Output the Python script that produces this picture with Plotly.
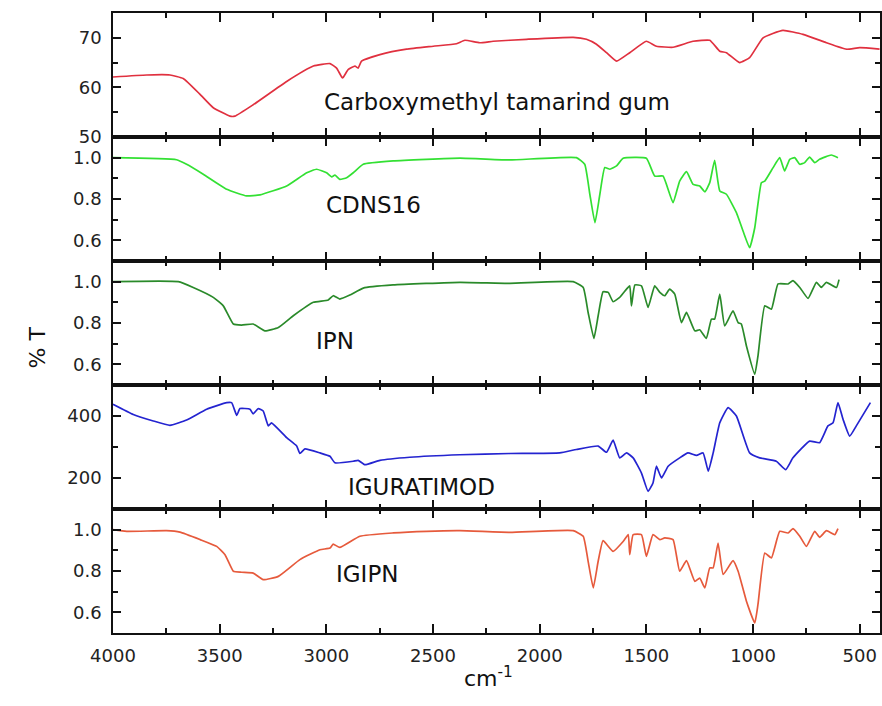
import plotly.graph_objects as go
from plotly.subplots import make_subplots

# ---------------- data ----------------
cmtg_wn = [4000, 3842, 3733, 3671, 3592, 3530, 3452, 3429, 3343, 3186, 3061, 2983, 2952, 2924, 2898,
           2866, 2851, 2835, 2749, 2624, 2499, 2390, 2351, 2281, 2218, 2062, 1843, 1781, 1734, 1687,
           1640, 1578, 1500, 1453, 1375, 1281, 1203, 1156, 1125, 1063, 1016, 953, 860, 766, 656,
           563, 500, 407]
cmtg_t = [62.1, 62.5, 62.5, 61.8, 58.6, 55.9, 54.2, 54.2, 56.5, 61.2, 64.3, 64.8, 63.9, 61.9, 63.6,
          64.3, 63.9, 65.3, 66.6, 67.7, 68.3, 68.8, 69.5, 69.0, 69.3, 69.7, 70.1, 69.7, 68.7, 67.0,
          65.3, 67.0, 69.3, 68.3, 68.1, 69.3, 69.5, 67.3, 67.0, 65.0, 66.0, 70.0, 71.5, 70.7, 69.0,
          67.7, 68.0, 67.7]

cdns_wn = [4000, 3702, 3655, 3577, 3467, 3374, 3311, 3186, 3092, 3046, 2999, 2975, 2960, 2937, 2905,
           2874, 2827, 2687, 2374, 2140, 1828, 1789, 1765, 1741, 1718, 1695, 1671, 1640, 1609, 1500,
           1461, 1422, 1375, 1344, 1312, 1281, 1250, 1226, 1203, 1180, 1156, 1125, 1078, 1047, 1016,
           992, 961, 945, 906, 875, 852, 828, 805, 781, 758, 735, 711, 688, 633, 602]
cdns_t = [1.0, 0.99, 0.968, 0.92, 0.847, 0.815, 0.82, 0.863, 0.927, 0.944, 0.927, 0.907, 0.916, 0.895, 0.903,
          0.927, 0.968, 0.984, 0.998, 0.989, 1.0, 0.968, 0.823, 0.685, 0.823, 0.952, 0.944, 0.96, 0.997, 0.997,
          0.911, 0.911, 0.782, 0.887, 0.932, 0.871, 0.863, 0.835, 0.879, 0.987, 0.839, 0.823, 0.734, 0.645, 0.564,
          0.661, 0.879, 0.887, 0.952, 1.0, 0.936, 0.992, 1.0, 0.968, 0.976, 1.003, 0.976, 0.992, 1.013, 1.0]

ipn_wn = [4000, 3694, 3624, 3530, 3483, 3436, 3397, 3343, 3288, 3225, 3155, 3061, 2991, 2968, 2937,
          2890, 2827, 2687, 2374, 2140, 1843, 1796, 1773, 1746, 1726, 1703, 1679, 1656, 1625, 1593,
          1578, 1570, 1554, 1523, 1492, 1461, 1437, 1414, 1391, 1367, 1336, 1312, 1273, 1250, 1219,
          1195, 1180, 1156, 1133, 1094, 1070, 1055, 1031, 992, 977, 945, 914, 883, 836, 813,
          781, 742, 703, 680, 656, 609, 597]
ipn_t = [1.0, 1.0, 0.972, 0.924, 0.883, 0.795, 0.79, 0.795, 0.762, 0.778, 0.835, 0.9, 0.911, 0.932, 0.916,
         0.935, 0.969, 0.984, 0.997, 0.992, 1.0, 0.972, 0.851, 0.725, 0.835, 0.951, 0.948, 0.903, 0.924, 0.964,
         0.98, 0.883, 0.984, 0.98, 0.875, 0.98, 0.948, 0.932, 0.964, 0.94, 0.802, 0.851, 0.762, 0.767, 0.725,
         0.819, 0.819, 0.94, 0.786, 0.859, 0.802, 0.795, 0.689, 0.552, 0.64, 0.883, 0.867, 0.989, 0.989, 1.005,
         0.972, 0.919, 0.997, 0.972, 0.997, 0.972, 1.01]

igu_wn = [4000, 3905, 3811, 3733, 3655, 3561, 3467, 3444, 3420, 3405, 3358, 3343, 3319, 3296, 3272,
          3257, 3186, 3139, 3124, 3100, 3030, 2983, 2960, 2874, 2851, 2819, 2749, 2609, 2374, 2140,
          1906, 1828, 1726, 1687, 1656, 1625, 1593, 1562, 1523, 1492, 1469, 1453, 1429, 1398, 1344,
          1305, 1265, 1234, 1210, 1187, 1156, 1117, 1078, 1016, 969, 891, 847, 813, 735, 688,
          649, 625, 602, 578, 547, 516, 450]
igu_t = [438, 405, 384, 370, 387, 422, 443, 443, 402, 424, 422, 407, 424, 416, 368,
         378, 330, 303, 279, 294, 281, 270, 249, 254, 257, 243, 257, 267, 275, 279,
         281, 292, 303, 283, 322, 265, 281, 265, 216, 157, 184, 238, 200, 238, 265,
         281, 273, 281, 222, 281, 378, 427, 400, 281, 265, 254, 227, 265, 319, 314,
         368, 378, 443, 389, 335, 368, 443]

igipn_wn = [4000, 3936, 3749, 3686, 3592, 3514, 3475, 3436, 3397, 3343, 3296, 3225, 3124, 3030, 2983,
            2968, 2937, 2843, 2687, 2530, 2374, 2140, 1843, 1796, 1773, 1749, 1726, 1703, 1656, 1609,
            1585, 1578, 1562, 1523, 1500, 1469, 1437, 1414, 1375, 1344, 1312, 1273, 1250, 1226, 1203,
            1187, 1164, 1140, 1094, 1070, 1031, 992, 977, 945, 914, 875, 836, 813, 781, 750,
            711, 688, 656, 617, 602]
igipn_t = [1.0, 0.992, 0.995, 0.988, 0.952, 0.919, 0.879, 0.799, 0.794, 0.79, 0.758, 0.774, 0.855, 0.903, 0.911,
           0.93, 0.914, 0.968, 0.984, 0.992, 0.995, 0.987, 0.995, 0.968, 0.847, 0.718, 0.847, 0.947, 0.895, 0.943,
           0.976, 0.879, 0.976, 0.976, 0.871, 0.976, 0.952, 0.96, 0.952, 0.799, 0.85, 0.75, 0.766, 0.718, 0.815,
           0.815, 0.935, 0.783, 0.85, 0.799, 0.654, 0.549, 0.638, 0.887, 0.863, 0.992, 0.984, 1.005, 0.968, 0.919,
           0.992, 0.963, 0.995, 0.976, 1.005]

labels = ["Carboxymethyl tamarind gum", "CDNS16", "IPN", "IGURATIMOD", "IGIPN"]
x_ticks = [4000, 3500, 3000, 2500, 2000, 1500, 1000, 500]
y_ticks = [[50, 60, 70], [0.6, 0.8, 1.0], [0.6, 0.8, 1.0], [200, 400], [0.6, 0.8, 1.0]]
y_ticktext = [["50", "60", "70"], ["0.6", "0.8", "1.0"], ["0.6", "0.8", "1.0"], ["200", "400"],
              ["0.6", "0.8", "1.0"]]
y_ranges = [[50, 75], [0.5, 1.1], [0.5, 1.1], [100, 500], [0.5, 1.1]]
y_minor = [5, 0.1, 0.1, 100, 0.1]

series = [(cmtg_wn, cmtg_t), (cdns_wn, cdns_t), (ipn_wn, ipn_t), (igu_wn, igu_t), (igipn_wn, igipn_t)]
colors = ["#e0303f", "#33e033", "#2a8a2a", "#2424d0", "#e65a3c"]
label_pos = [(2201, 57.0), (2777, 0.771), (2960, 0.714), (2552, 170), (2810, 0.784)]

FONT = "DejaVu Sans"
fig = make_subplots(rows=5, cols=1, shared_xaxes=True, vertical_spacing=0)

for i, ((wx, wy), col) in enumerate(zip(series, colors)):
    fig.add_trace(go.Scatter(x=wx, y=wy, mode="lines",
                             line=dict(color=col, width=1.7, shape="spline", smoothing=0.4),
                             showlegend=False, hoverinfo="skip"), row=i + 1, col=1)
    fig.add_annotation(x=label_pos[i][0], y=label_pos[i][1], text=labels[i], showarrow=False,
                       xref=f"x{'' if i == 0 else i + 1}", yref=f"y{'' if i == 0 else i + 1}",
                       font=dict(family=FONT, size=23, color="#111"), xanchor="center", yanchor="middle")
    fig.update_yaxes(row=i + 1, col=1, range=y_ranges[i], tickvals=y_ticks[i], ticktext=y_ticktext[i],
                     ticks="inside", ticklen=8, tickwidth=1.5, tickcolor="#111", mirror="ticks",
                     showline=True, linecolor="#111", linewidth=1.5, showgrid=False, zeroline=False,
                     automargin=False,
                     tickfont=dict(family=FONT, size=18, color="#222"), ticklabelstandoff=6,
                     minor=dict(dtick=y_minor[i], tick0=0, ticks="inside", ticklen=5, tickwidth=1.5,
                                tickcolor="#111", showgrid=False))
    fig.update_xaxes(row=i + 1, col=1, range=[4000, 405], tickvals=x_ticks,
                     ticks="inside", ticklen=9, tickwidth=1.5, tickcolor="#111", mirror="ticks",
                     showline=True, linecolor="#111", linewidth=1.5, showgrid=False, zeroline=False,
                     automargin=False,
                     showticklabels=(i == 4), tickfont=dict(family=FONT, size=18, color="#222"),
                     ticklabelstandoff=6,
                     minor=dict(dtick=250, tick0=0, ticks="inside", ticklen=5, tickwidth=1.5,
                                tickcolor="#111", showgrid=False))

W, H = 882, 706
L, R, T, B = 113, 2, 13, 73


def px_to_paper(px, py):
    return (px - L) / (W - L - R), 1 - (py - T) / (H - T - B)


cx, cy = px_to_paper(488, 693)
fig.add_annotation(x=cx, y=cy, xref="paper", yref="paper", text="cm<sup>-1</sup>", showarrow=False,
                   font=dict(family=FONT, size=22, color="#111"))
tx, ty = px_to_paper(22, 348)
fig.add_annotation(x=tx, y=ty, xref="paper", yref="paper", text="% T", showarrow=False, textangle=-90,
                   font=dict(family=FONT, size=22, color="#111"))

fig.update_layout(width=W, height=H, margin=dict(l=L, r=R, t=T, b=B, autoexpand=False),
                  plot_bgcolor="white", paper_bgcolor="white", font=dict(family=FONT))

# remove the page's default body margin so the figure sits at the window's top-left corner
fig.write_html("out.html", config={"displayModeBar": False},
               post_script="document.body.style.margin='0';document.body.style.overflow='hidden';")
